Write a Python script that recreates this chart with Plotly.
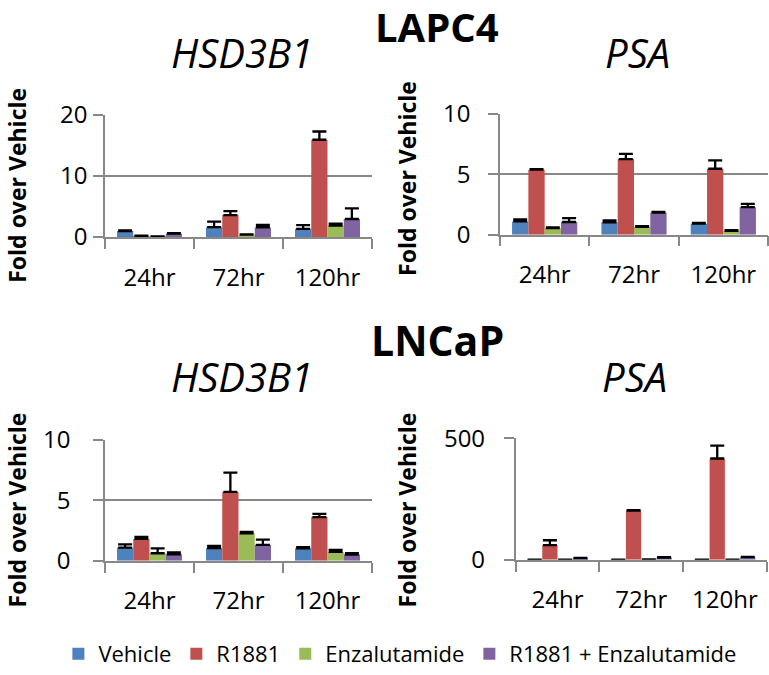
import plotly.graph_objects as go

W, H = 769, 675

timepoints = ["24hr", "72hr", "120hr"]
series_names = ["Vehicle", "R1881", "Enzalutamide", "R1881 + Enzalutamide"]
colors = ["#4F81BD", "#C0504D", "#9BBB59", "#8064A2"]

# LAPC4 - HSD3B1
lapc4_hsd_vehicle = [0.96, 1.6, 1.33]
lapc4_hsd_vehicle_err = [0.1, 0.9, 0.6]
lapc4_hsd_r1881 = [0.16, 3.57, 15.9]
lapc4_hsd_r1881_err = [0.05, 0.65, 1.35]
lapc4_hsd_enz = [0.05, 0.37, 1.87]
lapc4_hsd_enz_err = [0.03, 0.05, 0.3]
lapc4_hsd_combo = [0.53, 1.55, 2.93]
lapc4_hsd_combo_err = [0.1, 0.4, 1.75]

# LAPC4 - PSA
lapc4_psa_vehicle = [1.1, 1.02, 0.91]
lapc4_psa_vehicle_err = [0.16, 0.16, 0.06]
lapc4_psa_r1881 = [5.38, 6.26, 5.46]
lapc4_psa_r1881_err = [0.05, 0.43, 0.7]
lapc4_psa_enz = [0.54, 0.65, 0.32]
lapc4_psa_enz_err = [0.06, 0.05, 0.06]
lapc4_psa_combo = [1.05, 1.83, 2.28]
lapc4_psa_combo_err = [0.32, 0.05, 0.27]

# LNCaP - HSD3B1
lncap_hsd_vehicle = [1.08, 1.05, 1.03]
lncap_hsd_vehicle_err = [0.27, 0.19, 0.1]
lncap_hsd_r1881 = [1.81, 5.7, 3.62]
lncap_hsd_r1881_err = [0.16, 1.6, 0.27]
lncap_hsd_enz = [0.62, 2.27, 0.73]
lncap_hsd_enz_err = [0.4, 0.11, 0.16]
lncap_hsd_combo = [0.54, 1.32, 0.51]
lncap_hsd_combo_err = [0.16, 0.43, 0.11]

# LNCaP - PSA
lncap_psa_vehicle = [1.0, 1.0, 1.0]
lncap_psa_vehicle_err = [0.0, 0.0, 0.0]
lncap_psa_r1881 = [60.5, 203.0, 417.0]
lncap_psa_r1881_err = [20.0, 1.5, 53.0]
lncap_psa_enz = [0.5, 1.5, 0.5]
lncap_psa_enz_err = [0.0, 0.0, 0.0]
lncap_psa_combo = [6.7, 9.4, 10.7]
lncap_psa_combo_err = [1.5, 1.5, 1.5]

panels = [
    dict(vals=[lapc4_hsd_vehicle, lapc4_hsd_r1881, lapc4_hsd_enz, lapc4_hsd_combo],
         errs=[lapc4_hsd_vehicle_err, lapc4_hsd_r1881_err, lapc4_hsd_enz_err, lapc4_hsd_combo_err],
         xpx=(105, 372), ypx=(242.3, 117.3), rng=[0, 20], dtick=10, ystand=1),
    dict(vals=[lapc4_psa_vehicle, lapc4_psa_r1881, lapc4_psa_enz, lapc4_psa_combo],
         errs=[lapc4_psa_vehicle_err, lapc4_psa_r1881_err, lapc4_psa_enz_err, lapc4_psa_combo_err],
         xpx=(500, 768), ypx=(240, 116.5), rng=[0, 10], dtick=5, ystand=13),
    dict(vals=[lncap_hsd_vehicle, lncap_hsd_r1881, lncap_hsd_enz, lncap_hsd_combo],
         errs=[lncap_hsd_vehicle_err, lncap_hsd_r1881_err, lncap_hsd_enz_err, lncap_hsd_combo_err],
         xpx=(105, 372), ypx=(573.5, 450), rng=[0, 10], dtick=5, ystand=18),
    dict(vals=[lncap_psa_vehicle, lncap_psa_r1881, lncap_psa_enz, lncap_psa_combo],
         errs=[lncap_psa_vehicle_err, lncap_psa_r1881_err, lncap_psa_enz_err, lncap_psa_combo_err],
         xpx=(515.7, 766.7), ypx=(572.5, 448.3), rng=[0, 500], dtick=500, ystand=14),
]

FONT = "Open Sans"
GRID = "#888888"

fig = go.Figure()
layout = {}
for i, p in enumerate(panels):
    n = "" if i == 0 else str(i + 1)
    for s in range(4):
        fig.add_trace(go.Bar(
            x=timepoints, y=p["vals"][s], name=series_names[s],
            marker=dict(color=colors[s], line=dict(width=0)),
            error_y=dict(type="data", array=p["errs"][s], arrayminus=[0] * 3,
                         symmetric=False, color="black", thickness=2.3, width=7),
            xaxis="x" + n, yaxis="y" + n, legendgroup=series_names[s],
            showlegend=(i == 0),
        ))
    layout["xaxis" + n] = dict(
        domain=[p["xpx"][0] / W, p["xpx"][1] / W], anchor="y" + n,
        showline=True, linecolor=GRID, linewidth=1.6, automargin=False,
        ticks="outside", tickson="boundaries", ticklen=10, tickcolor=GRID, tickwidth=1.6,
        tickfont=dict(family=FONT, size=24, color="black"), ticklabelstandoff=18,
        showgrid=False, fixedrange=True,
    )
    layout["yaxis" + n] = dict(
        domain=[1 - p["ypx"][0] / H, 1 - p["ypx"][1] / H], anchor="x" + n,
        range=p["rng"], dtick=p["dtick"], tick0=0, automargin=False,
        showline=True, linecolor=GRID, linewidth=1.6,
        showgrid=True, gridcolor=GRID, gridwidth=1.6, zeroline=False,
        ticks="outside", ticklen=10, tickcolor=GRID, tickwidth=1.6,
        tickfont=dict(family=FONT, size=24, color="black"), ticklabelstandoff=p["ystand"],
        fixedrange=True,
    )

ann = []
def title(text, xpx, ypx, size):
    ann.append(dict(text=text, x=xpx / W, y=1 - ypx / H, xref="paper", yref="paper",
                    showarrow=False, xanchor="center", yanchor="middle", borderpad=0,
                    font=dict(family=FONT, size=size, color="black")))

title("<b>LAPC4</b>", 437, 27, 40)
title("<i>HSD3B1</i>", 242, 54, 40)
title("<i>PSA</i>", 637, 54, 40)
title("<b>LNCaP</b>", 437, 348, 41)
title("<i>HSD3B1</i>", 242, 385, 40)
title("<i>PSA</i>", 634, 385, 40)

for xpx, ypx in [(0, 190), (390, 183), (0, 522), (390, 522)]:
    ann.append(dict(text="<b>Fold over Vehicle</b>", x=xpx / W, y=1 - ypx / H,
                    xref="paper", yref="paper", showarrow=False, textangle=-90,
                    xanchor="left", yanchor="middle", borderpad=0,
                    font=dict(family=FONT, size=23, color="black")))

fig.update_layout(
    width=W, height=H, autosize=False, margin=dict(l=0, r=0, t=0, b=0, pad=0),
    paper_bgcolor="white", plot_bgcolor="white",
    barmode="group", bargap=0.27, bargroupgap=0,
    annotations=ann,
    legend=dict(orientation="h", x=0.52, xanchor="center", y=1 - 669 / H, yanchor="middle",
                font=dict(family=FONT, size=22, color="black"),
                itemwidth=30, traceorder="normal", bgcolor="rgba(0,0,0,0)"),
    showlegend=True,
    **layout,
)

fig.write_html("out.html", config={"displayModeBar": False},
               post_script="document.body.style.margin='0px';")
